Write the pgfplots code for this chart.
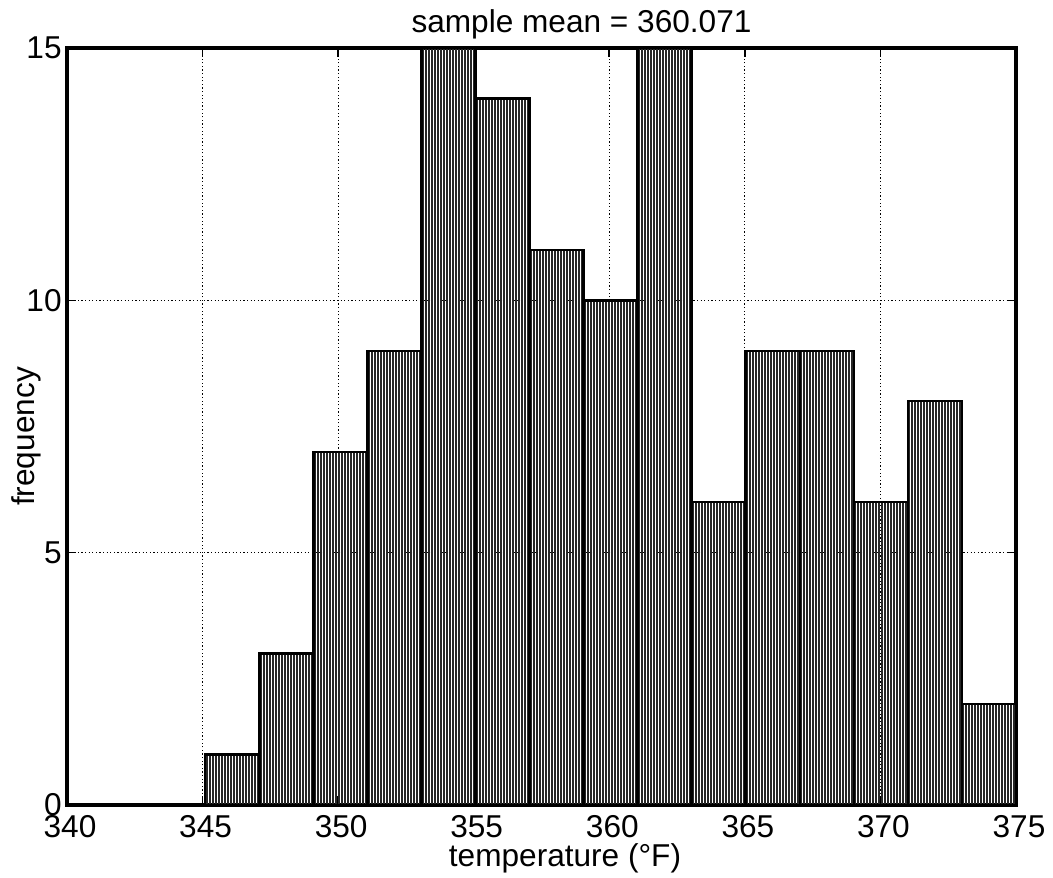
\documentclass[border=0pt]{standalone}
\usepackage{pgfplots}
\pgfplotsset{compat=1.18}
\usetikzlibrary{patterns.meta}
\usepackage{fontspec}
\setmainfont{Liberation Sans}
\begin{document}
\begin{tikzpicture}
\begin{axis}[
    scale only axis,
    width=474.5pt, height=378.5pt,
    xmin=340, xmax=375, ymin=0, ymax=15,
    xtick={340,345,...,375}, ytick={0,5,10,15},
    tick align=inside, major tick length=4.5pt,
    tick style={black, line width=0.8pt},
    axis line style={line width=1.6pt},
    grid=major,
    major grid style={black, line width=0.5pt, dash pattern=on 0.6pt off 1.2pt},
    font=\fontsize{15.8}{19}\selectfont,
    /pgf/number format/assume math mode=true,
    xticklabel style={anchor=base, yshift=-16pt, xshift=1.5pt},
    yticklabel style={anchor=east, inner sep=0pt, xshift=-2.5pt},
    every axis title shift=0pt,
    title={sample mean = 360.071},
    title style={at={([xshift=20pt,yshift=7.5pt]axis description cs:0.5,1)}, anchor=base, inner sep=0pt},
    xlabel={temperature (°F)},
    xlabel style={at={([xshift=11.75pt,yshift=-30.5pt]axis description cs:0.5,0)}, anchor=base, inner sep=0pt},
    ylabel={frequency},
    ylabel style={at={([xshift=-16pt,yshift=-5pt]axis description cs:0,0.5)}, anchor=base, inner sep=0pt},
]
% histogram, 15 bins
\addplot[ybar interval, fill=white, pattern={Lines[angle=90, distance=1.5pt, line width=0.7pt]}, pattern color=black!85, draw=black, line width=1.2pt] coordinates {
    (345.100,1) (347.093,3) (349.086,7) (351.079,9) (353.072,15)
    (355.065,14) (357.058,11) (359.051,10) (361.044,15) (363.037,6)
    (365.030,9) (367.023,9) (369.016,6) (371.009,8) (373.002,2)
    (374.995,2)
};
\end{axis}
\pgfresetboundingbox
\path[use as bounding box] ([xshift=-33.5pt,yshift=-36pt]current axis.south west) rectangle ([xshift=18.5pt,yshift=24pt]current axis.north east);
\end{tikzpicture}
\end{document}
